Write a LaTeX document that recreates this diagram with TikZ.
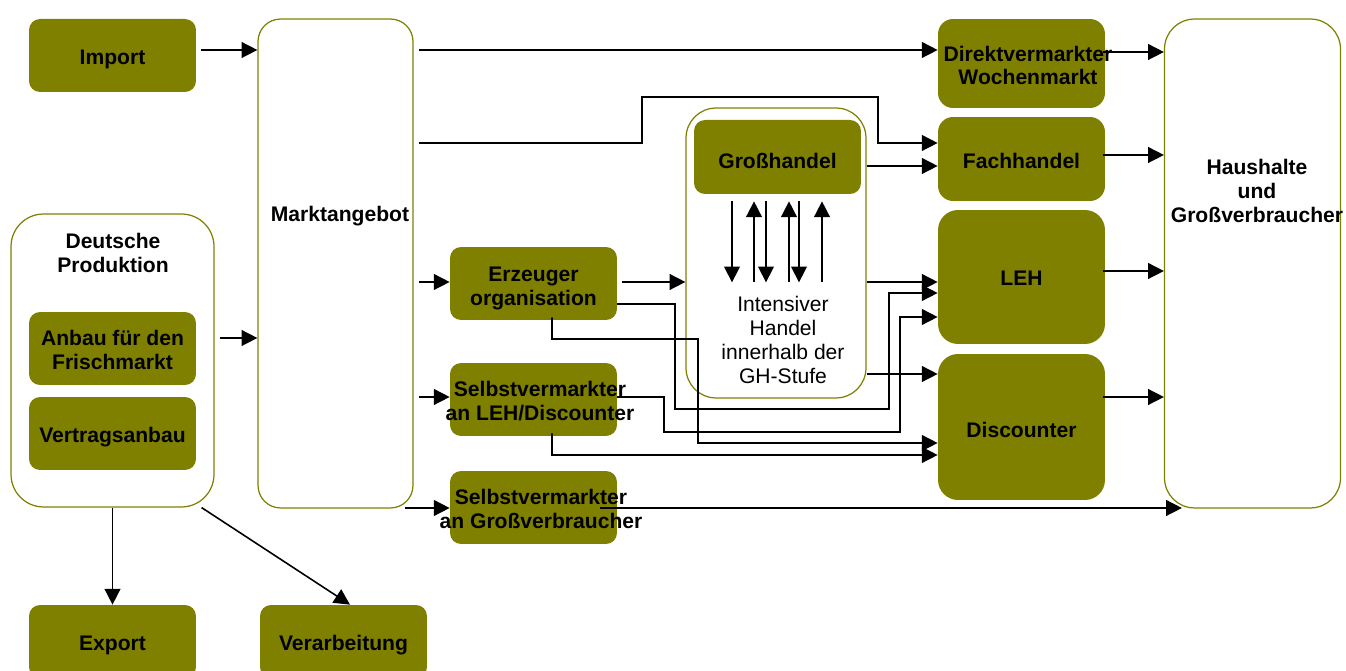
\documentclass[tikz,border=0pt]{standalone}
\usepackage{fontspec}
\setmainfont{Liberation Sans}
\usetikzlibrary{arrows.meta,calc}
\definecolor{oliv}{RGB}{128,128,0}
\begin{document}
\begin{tikzpicture}[x=0.02cm,y=-0.02cm,
  every node/.style={font=\fontsize{12pt}{13.6pt}\selectfont\bfseries, align=center, inner sep=0pt, text=black},
  fbox/.style={fill=oliv, rounded corners=0.22cm, minimum width=3.34cm, minimum height=1.46cm},
  obox/.style={draw=oliv, line width=0.7pt, rounded corners=0.55cm},
  plain/.style={font=\fontsize{12pt}{13.6pt}\selectfont},
  arr/.style={line width=0.9pt, -{Triangle[length=9pt,width=9pt]}},
  gap/.style={shorten <=2.8pt}]
\useasboundingbox (0,0) rectangle (1346,671);

% outline boxes
\node[obox, rounded corners=0.45cm, minimum width=3.1cm, minimum height=9.78cm] (markt) at (335.5,263.5) {};
\node (marktt) at (340,216) {Marktangebot};
\node[obox, rounded corners=0.65cm, minimum width=4.06cm, minimum height=5.86cm] (dp) at (112.5,360.5) {};
\node (dpt) at (113,253) {Deutsche\\Produktion};
\node[obox, rounded corners=0.6cm, minimum width=3.52cm, minimum height=9.78cm] (hh) at (1252.5,263.5) {};
\node (hht) at (1257,191) {Haushalte\\und\\Großverbraucher};
\node[obox, rounded corners=0.6cm, minimum width=3.6cm, minimum height=5.8cm] (gho) at (776,253) {};
\node[plain] (ght) at (783,340) {Intensiver\\Handel\\innerhalb der\\GH-Stufe};

% filled boxes
\node[fbox] (import) at (112.5,55.5) {};
\node (importt) at ($(import)+(0,3.5)$) {Import};
\node[fbox] (anbau) at (112.5,348.5) {};
\node (anbaut) at ($(anbau)+(0,1.5)$) {Anbau für den\\Frischmarkt};
\node[fbox] (vertrag) at (112.5,433.5) {};
\node (vertragt) at ($(vertrag)+(0,4)$) {Vertragsanbau};
\node[fbox] (export) at (112.5,641.5) {};
\node (exportt) at ($(export)+(0,4)$) {Export};
\node[fbox] (verarb) at (343.5,641.5) {};
\node (verarbt) at ($(verarb)+(0,4)$) {Verarbeitung};
\node[fbox] (erz) at (533.5,283.5) {};
\node (erzt) at ($(erz)+(0,5)$) {Erzeuger\\organisation};
\node[fbox] (slh) at (533.5,399.5) {};
\node (slht) at (540,401) {Selbstvermarkter\\an LEH/Discounter};
\node[fbox] (sgv) at (533.5,507.5) {};
\node (sgvt) at (541,509) {Selbstvermarkter\\an Großverbraucher};
\node[fbox, minimum height=1.48cm] (gh) at (777.5,157) {};
\node (ght2) at ($(gh)+(0,3.5)$) {Großhandel};
\node[fbox, rounded corners=0.3cm, minimum height=1.78cm] (direkt) at (1021.5,63.5) {};
\node (direktt) at (1028,65.5) {Direktvermarkter\\Wochenmarkt};
\node[fbox, rounded corners=0.3cm, minimum height=1.68cm] (fach) at (1021.5,159) {};
\node (facht) at ($(fach)+(0,1.5)$) {Fachhandel};
\node[fbox, rounded corners=0.4cm, minimum height=2.68cm] (leh) at (1021.5,277) {};
\node (leht) at ($(leh)+(0,1)$) {LEH};
\node[fbox, rounded corners=0.4cm, minimum height=2.92cm] (disc) at (1021.5,427) {};
\node (disct) at ($(disc)+(0,2.5)$) {Discounter};

% connectors
\draw[arr, gap] (import.east |- 0,50) -- (markt.west |- 0,50);
\draw[arr, gap] (dp.east |- 0,338) -- (markt.west |- 0,338);
\draw[arr, gap] (markt.east |- 0,50) -- (direkt.west |- 0,50);
\draw[arr, gap] (markt.east |- 0,143) -- (642,143) -- (642,97) -- (878,97) -- (878,143) -- (fach.west |- 0,143);
\draw[arr] (gho.east |- 0,166) -- (fach.west |- 0,166);
\draw[arr, gap] (markt.east |- 0,282) -- (erz.west |- 0,282);
\draw[arr, gap] (markt.east |- 0,397) -- (slh.west |- 0,397);
\draw[arr] ($(markt.south |- 0,508)+(69.5,0)$) -- (sgv.west |- 0,508);
\draw[arr, gap] (erz.east |- 0,282) -- (gho.west |- 0,282);
\draw[arr] (gho.east |- 0,282) -- (leh.west |- 0,282);
\draw[arr] (erz.east |- 0,304) -- (675,304) -- (675,409) -- (889,409) -- (889,293) -- (leh.west |- 0,293);
\draw[arr] ($(erz.south)+(18.5,-3)$) -- (552,339) -- (698,339) -- (698,443) -- (disc.west |- 0,443);
\draw[arr] (slh.east |- 0,397) -- (664,397) -- (664,432) -- (900,432) -- (900,317) -- (leh.west |- 0,317);
\draw[arr] ($(slh.south)+(18.5,-3)$) -- (552,455) -- (disc.west |- 0,455);
\draw[arr] (gho.east |- 0,374) -- (disc.west |- 0,374);
\draw[arr] ($(sgv.east |- 0,508)+(-17,0)$) -- ($(hh.south west |- 0,508)+(18,0)$);
\draw[arr] ($(direkt.east |- 0,52)+(-2,0)$) -- (hh.west |- 0,52);
\draw[arr] ($(fach.east |- 0,155)+(-2,0)$) -- (hh.west |- 0,155);
\draw[arr] ($(leh.east |- 0,271)+(-2,0)$) -- (hh.west |- 0,271);
\draw[arr] ($(disc.east |- 0,397)+(-2,0)$) -- (hh.west |- 0,397);
\draw[arr] (dp.south) -- (export.north);
\draw[arr] ($(dp.south east)+(-13,0)$) -- ($(verarb.north)+(6.5,0)$);

% trade arrows inside Grosshandel
\foreach \dx in {732,766,799} \draw[arr] (gh.south -| \dx,0) ++(0,7) -- ++(0,81);
\foreach \dx in {754,789,822} \draw[arr] (gh.south -| \dx,0) ++(0,88) -- ++(0,-81);
\end{tikzpicture}
\end{document}
